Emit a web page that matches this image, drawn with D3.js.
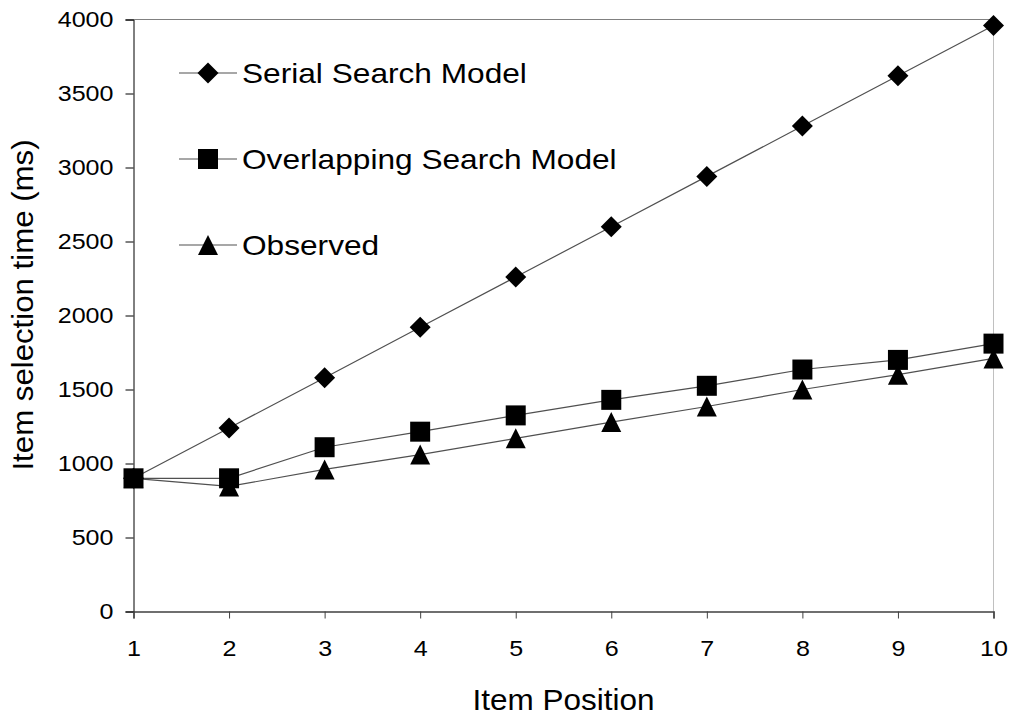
<!DOCTYPE html>
<html>
<head>
<meta charset="utf-8">
<script src="https://cdn.jsdelivr.net/npm/d3@7"></script>
<style>
body { margin: 0; background: #fff; }
text { font-family: "Liberation Sans", Arial, sans-serif; fill: #000; }
</style>
</head>
<body>
<div id="chart"></div>
<script>
var width = 1015;
var height = 719;

// data
var positions = [1, 2, 3, 4, 5, 6, 7, 8, 9, 10];
var serial = [900, 1240, 1580, 1920, 2260, 2600, 2940, 3280, 3620, 3960];
var overlapping = [900, 900, 1110, 1215, 1325, 1430, 1525, 1635, 1700, 1810];
var observed = [900, 845, 960, 1060, 1170, 1280, 1385, 1500, 1600, 1710];
var yTicks = [0, 500, 1000, 1500, 2000, 2500, 3000, 3500, 4000];
var seriesNames = ['Serial Search Model', 'Overlapping Search Model', 'Observed'];

var margin = {left: 133.5, right: 1015 - 993.5, top: 19.5, bottom: 719 - 611.5};

var svg = d3.select('#chart').append('svg')
	.attr('width', width)
	.attr('height', height);

var x = d3.scaleLinear()
	.domain([1, 10])
	.range([margin.left, width - margin.right]);

var y = d3.scaleLinear()
	.domain([0, 4000])
	.range([height - margin.bottom, margin.top]);

// the picture's text is a bit wider than the font draws it
function stretch(sel, k) {
	sel.each(function() {
		var w = this.getComputedTextLength();
		d3.select(this)
			.attr('textLength', w * k)
			.attr('lengthAdjust', 'spacingAndGlyphs');
	});
}

// marker shapes, 20px boxes
var diamond = { draw: function(ctx, size) {
	var r = Math.sqrt(size) / 2;
	ctx.moveTo(0, -r); ctx.lineTo(r, 0); ctx.lineTo(0, r); ctx.lineTo(-r, 0); ctx.closePath();
}};
var square = { draw: function(ctx, size) {
	var r = Math.sqrt(size) / 2;
	ctx.rect(-r, -r, 2 * r, 2 * r);
}};
var triangle = { draw: function(ctx, size) {
	var r = Math.sqrt(size) / 2;
	ctx.moveTo(0, -r); ctx.lineTo(r, r); ctx.lineTo(-r, r); ctx.closePath();
}};
var seriesShapes = [diamond, square, triangle];
var symSize = [441, 400, 400];

// plot frame - top and right
svg.append('line')
	.attr('x1', x(1)).attr('x2', x(10))
	.attr('y1', y(4000)).attr('y2', y(4000))
	.attr('stroke', '#808080').attr('stroke-width', 1);
svg.append('line')
	.attr('x1', x(10)).attr('x2', x(10))
	.attr('y1', y(4000)).attr('y2', y(0))
	.attr('stroke', '#c0c0c0').attr('stroke-width', 1);

// y axis
var yAxis = svg.append('g')
	.attr('transform', 'translate(' + x(1) + ',0)')
	.call(d3.axisLeft(y).tickValues(yTicks).tickSize(8).tickPadding(12).tickFormat(d3.format('d')));
yAxis.select('.domain').attr('stroke', '#000');
yAxis.selectAll('.tick line').attr('stroke', '#000');
yAxis.selectAll('.tick text')
	.style('font-size', '22px')
	.style('font-family', '"Liberation Sans", Arial, sans-serif')
	.attr('fill', '#000')
	.call(stretch, 1.14);

// x axis
var xAxis = svg.append('g')
	.attr('transform', 'translate(0,' + y(0) + ')')
	.call(d3.axisBottom(x).tickValues(positions).tickSize(7).tickPadding(22).tickFormat(d3.format('d')));
xAxis.select('.domain').attr('stroke', '#404040').attr('stroke-width', 1.5);
xAxis.selectAll('.tick line').attr('stroke', '#404040');
xAxis.selectAll('.tick text')
	.style('font-size', '22px')
	.style('font-family', '"Liberation Sans", Arial, sans-serif')
	.attr('fill', '#000')
	.call(stretch, 1.14);

// axis titles
svg.append('text')
	.attr('x', (x(1) + x(10)) / 2)
	.attr('y', 710)
	.attr('text-anchor', 'middle')
	.style('font-size', '30px')
	.text('Item Position')
	.call(stretch, 1.05);

svg.append('text')
	.attr('transform', 'translate(33,305) rotate(-90)')
	.attr('text-anchor', 'middle')
	.style('font-size', '30px')
	.text('Item selection time (ms)')
	.call(stretch, 1.04);

// series
var allSeries = [serial, overlapping, observed];
var line = d3.line()
	.x(function(d, i) { return x(positions[i]); })
	.y(function(d) { return y(d); });

allSeries.forEach(function(vals) {
	svg.append('path')
		.attr('d', line(vals))
		.attr('fill', 'none')
		.attr('stroke', '#505050')
		.attr('stroke-width', 1.2);
});

allSeries.forEach(function(vals, s) {
	svg.selectAll('.mark-' + s)
		.data(vals)
		.enter()
		.append('path')
			.attr('class', 'mark-' + s)
			.attr('d', d3.symbol().type(seriesShapes[s]).size(symSize[s]))
			.attr('transform', function(d, i) {
				return 'translate(' + x(positions[i]) + ',' + y(d) + ')';
			})
			.attr('fill', '#000');
});

// legend
var legendY = [73, 159, 245];
var gLegend = svg.selectAll('.legend')
	.data(seriesNames)
	.enter().append('g')
		.attr('transform', function(d, i) { return 'translate(0,' + legendY[i] + ')'; });

gLegend.append('line')
	.attr('x1', 179).attr('x2', 237)
	.attr('y1', 0).attr('y2', 0)
	.attr('stroke', '#505050').attr('stroke-width', 1.2);

gLegend.append('path')
	.attr('d', function(d, i) { return d3.symbol().type(seriesShapes[i]).size(symSize[i])(); })
	.attr('transform', 'translate(208,0)')
	.attr('fill', '#000');

gLegend.append('text')
	.attr('x', 242)
	.attr('y', 10)
	.style('font-size', '28px')
	.text(function(d) { return d; })
	.call(stretch, 1.13);
</script>
</body>
</html>
